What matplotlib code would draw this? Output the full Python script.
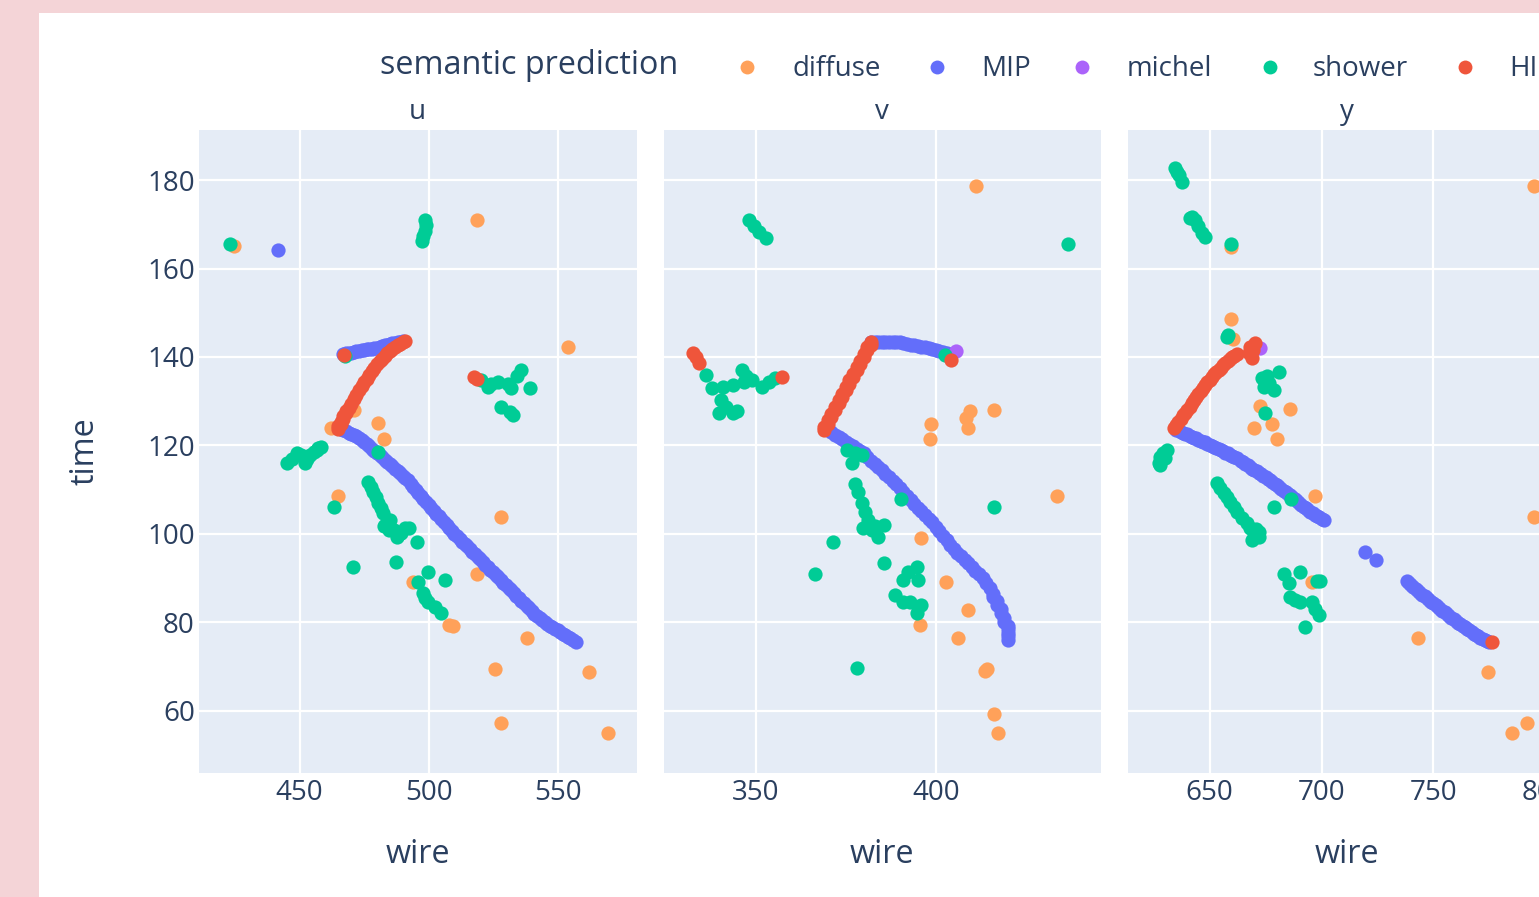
import matplotlib
matplotlib.use("Agg")
import matplotlib.pyplot as plt
from matplotlib.lines import Line2D
from matplotlib.patches import Rectangle

plt.rcParams['font.family'] = ['Open Sans', 'DejaVu Sans']

# ---------------- data (wire, time) per plane and class ----------------
classes = ["diffuse", "MIP", "michel", "shower", "HIP"]
colors = ["#FFA15A", "#636EFA", "#AB63FA", "#00CC96", "#EF553B"]
planes = ["u", "v", "y"]

# ---- plane u ----
u_diffuse_wire = [424.7, 518.6, 554.2, 471.1, 462.1, 480.2, 482.8, 464.7, 493.9, 509.4, 508.1,
                  518.9, 528.2, 538.3, 525.6, 562.3, 528.2, 569.7]
u_diffuse_time = [165.1, 171.0, 142.3, 128.0, 123.9, 125.0, 121.4, 108.6, 89.2, 79.2, 79.4,
                  91.0, 103.9, 76.4, 69.6, 68.9, 57.2, 55.1]

u_mip_wire = [441.7,
              467, 468, 469, 470, 471, 472, 473, 474, 475, 476, 477, 478, 479, 480, 481, 482,
              483, 484, 485, 486, 487, 488, 489, 490,
              466, 467, 468, 469, 470, 471, 472, 473, 474, 475, 476, 477, 478, 479, 480, 481,
              482, 483, 484, 485, 486, 487, 488, 489, 490, 491, 492, 493, 494, 495, 496, 497,
              498, 499, 500, 501, 502, 503, 504, 505, 506, 507, 508, 509, 510, 511, 512, 513,
              514, 515, 516, 517, 518, 519, 520, 521, 522, 523, 524, 525, 526, 527, 528, 529,
              530, 531, 532, 533, 534, 535, 536, 537, 538, 539, 540, 541, 542, 543, 544, 545,
              546, 547, 548, 549, 550, 551, 552, 553, 554, 555, 556, 557]
u_mip_time = [164.2,
              140.6, 140.8, 140.9, 141.0, 141.2, 141.3, 141.4, 141.5, 141.6, 141.7, 141.8,
              141.9, 142.0, 142.1, 142.2, 142.4, 142.6, 142.8, 142.9, 143.1, 143.2, 143.4,
              143.5, 143.7,
              123.7, 123.5, 123.2, 122.9, 122.7, 122.4, 122.1, 121.7, 121.2, 120.7, 120.3,
              119.8, 119.3, 118.8, 118.3, 117.8, 117.3, 116.8, 116.3, 115.8, 115.3, 114.8,
              114.3, 113.8, 113.2, 112.7, 112.1, 111.4, 110.7, 110.0, 109.3, 108.6, 107.9,
              107.2, 106.5, 105.9, 105.3, 104.6, 104.0, 103.3, 102.7, 102.0, 101.4, 100.7,
              100.1, 99.5, 98.9, 98.3, 97.8, 97.2, 96.6, 96.0, 95.4, 94.8, 94.3, 93.7, 93.1,
              92.5, 91.9, 91.3, 90.8, 90.2, 89.6, 89.0, 88.4, 87.8, 87.3, 86.7, 86.1, 85.5,
              84.9, 84.3, 83.8, 83.2, 82.6, 82.0, 81.5, 81.0, 80.5, 80.0, 79.6, 79.2, 78.9,
              78.6, 78.3, 77.9, 77.5, 77.1, 76.8, 76.4, 76.0, 75.7]

u_michel_wire = []
u_michel_time = []

u_shower_wire = [423.2, 498.5, 499.0, 498.5, 498.0, 497.5, 480.2,
                 445.0, 447.0, 448.9, 450.5, 452.1, 453.0, 454.1, 455.6, 456.9, 457.3, 458.2, 463.4,
                 476.7, 477.6, 478.6, 479.5, 480.5, 481.5, 482.5, 483.1, 484.1, 484.6, 485.1,
                 486.4, 487.7, 488.4, 490.9, 489.5, 492.6, 482.8, 495.4, 470.8, 487.4,
                 499.7, 495.8, 506.2, 497.7, 498.7, 499.7, 502.3, 504.9,
                 520.4, 523.0, 524.3, 526.9, 530.8, 532.1, 534.1, 536.0, 539.2, 528.2, 531.5,
                 532.8, 467.5]
u_shower_time = [165.5, 171.0, 169.8, 168.5, 167.3, 166.2, 118.6,
                 116.0, 117.0, 118.2, 117.8, 116.0, 117.0, 117.9, 118.6, 119.0, 119.4, 119.6, 106.0,
                 111.8, 110.7, 109.6, 108.3, 106.9, 105.8, 104.7, 102.0, 103.2, 100.9, 103.2,
                 100.9, 99.4, 100.1, 101.3, 100.2, 101.3, 101.7, 98.3, 92.6, 93.6,
                 91.5, 89.2, 89.5, 86.6, 85.6, 84.7, 83.6, 82.1,
                 134.8, 133.3, 134.0, 134.4, 134.0, 132.9, 135.6, 137.1, 132.9, 128.8, 127.6,
                 126.9, 140.2]

u_hip_wire = [465, 465, 466, 466, 467, 467, 468, 468, 469, 470, 471, 472, 473, 474, 475, 476,
              477, 478, 479, 480, 481, 482, 483, 484, 485, 486, 487, 488, 489, 490, 491,
              467.3, 517.6, 518.6]
u_hip_time = [123.8, 124.3, 124.8, 125.4, 126.0, 126.6, 127.3, 127.9, 128.4, 129.4, 130.4,
              131.5, 132.5, 133.5, 134.3, 135.1, 136.0, 136.8, 137.6, 138.4, 139.1, 139.6,
              140.2, 140.8, 141.4, 141.8, 142.2, 142.6, 142.9, 143.3, 143.6,
              140.4, 135.4, 135.0]

# ---- plane v ----
v_diffuse_wire = [411.2, 398.8, 398.4, 409.4, 408.5, 409.0, 416.1, 433.8, 396.0, 402.9, 408.9,
                  406.2, 395.6, 413.8, 414.3, 416.3, 417.4]
v_diffuse_time = [178.7, 124.9, 121.4, 127.7, 126.2, 123.9, 128.0, 108.6, 99.0, 89.2, 82.8,
                  76.4, 79.4, 69.1, 69.6, 59.3, 55.1]

v_mip_wire = [382, 383, 384, 385, 386, 387, 388, 389, 390, 391, 392, 393, 394, 395, 396, 397,
              398, 399, 400, 401, 402, 403,
              370, 371, 372, 373, 374, 375, 376, 377, 378, 379, 380, 381, 382, 383, 384, 385,
              386, 387, 388, 389, 390, 391, 392, 393, 394, 395, 396, 397, 398, 399, 400, 401,
              402, 403, 404, 405, 406, 407, 408, 409, 410, 411, 412, 413, 414, 415, 416, 416,
              417, 417, 418, 418, 419, 419, 420, 420, 420, 420, 420]
v_mip_time = [143.3, 143.4, 143.5, 143.5, 143.5, 143.5, 143.5, 143.4, 143.3, 143.2, 143.0,
              142.8, 142.6, 142.5, 142.3, 142.2, 142.0, 141.8, 141.6, 141.4, 141.1, 140.9,
              123.7, 123.0, 122.4, 121.9, 121.4, 120.9, 120.4, 119.8, 119.3, 118.8, 118.2,
              117.4, 116.6, 115.9, 115.2, 114.4, 113.6, 112.8, 112.0, 111.2, 110.4, 109.5,
              108.6, 107.7, 106.8, 105.9, 105.1, 104.3, 103.5, 102.6, 101.6, 100.6, 99.6,
              98.6, 97.6, 96.6, 95.8, 95.0, 94.2, 93.4, 92.6, 91.7, 90.9, 90.0, 89.0, 87.8,
              86.4, 85.7, 84.8, 84.0, 83.0, 82.2, 81.0, 80.2, 79.3, 78.5, 77.7, 76.9, 76.1]

v_michel_wire = [405.7]
v_michel_time = [141.4]

v_shower_wire = [348.2, 349.5, 350.9, 352.8, 436.8, 336.2, 338.0, 340.8, 343.6, 346.3, 346.8,
                 347.2, 349.1, 351.8, 353.7, 355.5, 340.3, 339.9, 343.6, 344.9, 341.7, 402.5,
                 416.3, 375.3, 377.6, 376.7, 379.5, 377.6, 378.5, 379.5, 380.4, 381.3, 379.9,
                 382.2, 384.1, 385.5, 383.2, 390.3, 371.6, 366.6, 385.5, 394.7, 392.4, 391.0,
                 395.1, 388.7, 391.0, 392.8, 396.0, 394.7, 378.1]
v_shower_time = [171.0, 169.5, 168.3, 167.0, 165.5, 135.9, 132.9, 133.3, 133.7, 137.1, 134.4,
                 135.6, 134.8, 133.3, 134.4, 135.2, 130.3, 127.3, 127.3, 127.7, 128.8, 140.5,
                 106.0, 119.0, 118.2, 116.0, 117.8, 111.4, 109.6, 106.9, 105.0, 103.2, 101.3,
                 100.9, 99.4, 102.0, 101.7, 107.8, 98.3, 91.0, 93.5, 92.6, 91.5, 89.6,
                 89.6, 86.2, 84.7, 84.7, 84.0, 82.1, 69.8]

v_hip_wire = [332.5, 333.4, 334.3, 357.4, 404.3,
              369, 369, 370, 370, 371, 371, 372, 372, 373, 373, 374, 374, 375, 375, 376, 376,
              377, 377, 378, 378, 379, 379, 380, 380, 381, 381, 382, 382]
v_hip_time = [140.8, 140.1, 138.7, 135.4, 139.3,
              123.4, 124.2, 124.9, 125.7, 126.5, 127.2, 128.0, 128.7, 129.5, 130.2, 131.0,
              131.7, 132.5, 133.2, 134.0, 134.7, 135.5, 136.2, 137.0, 137.7, 138.5, 139.2,
              140.0, 140.7, 141.5, 142.2, 142.8, 143.3]

# ---- plane y ----
y_diffuse_wire = [794.9, 659.6, 659.5, 660.4, 672.6, 686.0, 677.8, 670.0, 680.1, 697.2, 695.7,
                  794.9, 743.0, 774.3, 785.2, 792.0]
y_diffuse_time = [178.7, 164.9, 148.5, 144.0, 128.9, 128.2, 124.9, 123.9, 121.4, 108.6, 89.2,
                  103.9, 76.4, 68.9, 55.1, 57.2]

y_mip_wire = [635, 636, 637, 638, 639, 640, 641, 642, 643, 644, 645, 646, 647, 648, 649, 650,
              651, 652, 653, 654, 655, 656, 657, 658, 659, 660, 661, 662, 664, 665, 666, 667,
              668, 669, 670, 671, 672, 673, 674, 675, 676, 677, 678, 679, 680, 681, 682, 683,
              684, 685, 686, 687, 688, 689, 690, 691, 692, 693, 694, 695, 696, 697, 698, 699,
              700, 701, 719.6, 724.5,
              738, 739, 740, 741, 742, 743, 744, 745, 746, 747, 748, 749, 750, 751, 752, 753,
              754, 755, 756, 757, 758, 759, 760, 761, 762, 763, 764, 765, 766, 767, 768, 769,
              770, 771, 772, 773, 774, 775]
y_mip_time = [123.6, 123.4, 123.1, 122.9, 122.7, 122.5, 122.2, 122.0, 121.8, 121.6, 121.3,
              121.1, 120.9, 120.7, 120.4, 120.2, 119.9, 119.7, 119.4, 119.2, 118.9, 118.7,
              118.4, 118.2, 117.9, 117.7, 117.4, 117.1, 116.5, 116.2, 115.8, 115.5, 115.2,
              114.8, 114.5, 114.2, 113.8, 113.5, 113.2, 112.9, 112.5, 112.2, 111.8, 111.4,
              111.0, 110.6, 110.2, 109.8, 109.4, 109.0, 108.7, 108.3, 107.9, 107.5, 107.1,
              106.6, 106.2, 105.8, 105.4, 105.0, 104.7, 104.4, 104.1, 103.8, 103.5, 103.2,
              96.0, 94.1,
              89.3, 88.9, 88.5, 88.0, 87.6, 87.1, 86.7, 86.3, 85.9, 85.5, 85.1, 84.7, 84.3,
              83.9, 83.5, 83.1, 82.7, 82.3, 81.9, 81.5, 81.1, 80.7, 80.3, 79.9, 79.6, 79.2,
              78.9, 78.5, 78.2, 77.8, 77.5, 77.2, 76.9, 76.6, 76.3, 76.0, 75.8, 75.5]

y_michel_wire = [672.6]
y_michel_time = [142.0]

y_shower_wire = [634.6, 635.5, 636.1, 637.6, 641.3, 642.0, 643.5, 645.0, 646.5, 648.0, 659.6,
                 657.7, 658.4, 673.3, 675.6, 676.3, 680.8, 678.6, 674.1, 674.8,
                 627.3, 628.0, 629.0, 631.0, 627.9, 630.0, 686.5, 678.6,
                 653.3, 654.7, 656.3, 657.7, 659.2, 660.7, 662.2, 664.5, 666.7, 668.0, 669.6,
                 671.9, 668.9, 670.5, 671.9, 683.0, 685.3, 690.5, 699.4, 698.0, 686.0, 688.0,
                 690.5, 695.7, 697.0, 698.7, 692.7]
y_shower_time = [182.6, 181.8, 181.1, 179.6, 171.3, 171.7, 171.0, 169.5, 168.0, 167.2, 165.5,
                 144.5, 145.0, 135.2, 135.6, 134.1, 136.7, 132.6, 133.3, 127.3,
                 116.0, 117.5, 118.2, 119.0, 115.6, 117.2, 107.9, 106.1,
                 111.5, 110.3, 109.2, 108.3, 107.3, 106.2, 105.0, 103.7, 102.4, 101.3, 100.2,
                 99.4, 98.6, 101.2, 100.5, 91.0, 88.9, 91.3, 89.4, 89.4, 85.8, 85.0,
                 84.7, 84.7, 83.0, 81.7, 78.9]

y_hip_wire = [634, 635, 636, 637, 638, 639, 640, 641, 642, 643, 644, 645, 646, 647, 648, 649,
              650, 651, 652, 653, 654, 655, 656, 657, 658, 659, 660, 661, 662,
              667.4, 668.1, 668.9, 669.5, 670.4, 776]
y_hip_time = [124.0, 124.7, 125.4, 126.1, 126.8, 127.4, 128.1, 128.8, 129.5, 130.2, 130.9,
              131.6, 132.3, 132.9, 133.6, 134.3, 134.9, 135.5, 136.1, 136.6, 137.1, 137.6,
              138.1, 138.6, 139.0, 139.5, 139.9, 140.3, 140.7,
              140.8, 142.3, 139.7, 141.5, 143.1, 75.5]

plane_data = {
    "u": [(u_diffuse_wire, u_diffuse_time), (u_mip_wire, u_mip_time), (u_michel_wire, u_michel_time),
          (u_shower_wire, u_shower_time), (u_hip_wire, u_hip_time)],
    "v": [(v_diffuse_wire, v_diffuse_time), (v_mip_wire, v_mip_time), (v_michel_wire, v_michel_time),
          (v_shower_wire, v_shower_time), (v_hip_wire, v_hip_time)],
    "y": [(y_diffuse_wire, y_diffuse_time), (y_mip_wire, y_mip_time), (y_michel_wire, y_michel_time),
          (y_shower_wire, y_shower_time), (y_hip_wire, y_hip_time)],
}

x_ranges = [(411.0, 580.6), (324.4, 445.9), (613.5, 809.0)]
x_ticks = [[450, 500, 550], [350, 400], [650, 700, 750, 800]]
y_range = (46.1, 191.3)
y_ticks = [60, 80, 100, 120, 140, 160, 180]

# ---------------- figure ----------------
W, H = 1539, 897
TEXT = "#2a3f5f"
fig = plt.figure(figsize=(W / 100, H / 100), dpi=100, facecolor="#F4D4D7")
fig.patches.append(Rectangle((39 / W, 0), 1, 1 - 13 / H, transform=fig.transFigure,
                             facecolor="white", edgecolor="none", zorder=-10))


def fx(px):
    return px / W


def fy(py):
    return 1 - py / H


panel_left = [199, 663.5, 1128]
panel_w = 437.5
p_top, p_bot = 130, 772.5
MS = 105
TICK_FS = 20
TITLE_FS = 23.3

for i, plane in enumerate(planes):
    ax = fig.add_axes([fx(panel_left[i]), fy(p_bot), panel_w / W, (p_bot - p_top) / H])
    ax.set_facecolor("#E5ECF6")
    for sp in ax.spines.values():
        sp.set_visible(False)
    ax.set_xlim(*x_ranges[i])
    ax.set_ylim(*y_range)
    ax.set_xticks(x_ticks[i])
    ax.set_yticks(y_ticks)
    ax.grid(True, color="white", linewidth=1.6)
    ax.set_axisbelow(True)
    ax.tick_params(length=0, colors=TEXT, labelsize=TICK_FS)
    ax.tick_params(axis="x", pad=5)
    ax.tick_params(axis="y", pad=3)
    if i > 0:
        ax.tick_params(axis="y", labelleft=False)
    for (wires, times), col in zip(plane_data[plane], colors):
        if len(wires):
            ax.scatter(wires, times, s=MS, c=col, linewidths=0, zorder=3)
    cx = panel_left[i] + panel_w / 2
    fig.text(fx(cx), fy(112), plane, ha="center", va="center", fontsize=TICK_FS, color=TEXT)
    fig.text(fx(cx), fy(854), "wire", ha="center", va="center", fontsize=TITLE_FS, color=TEXT)

fig.text(fx(85), fy(451), "time", ha="center", va="center", rotation=90, fontsize=TITLE_FS, color=TEXT)

# legend
fig.text(fx(380), fy(65.5), "semantic prediction", ha="left", va="center", fontsize=TITLE_FS, color=TEXT)
leg_marker_x = [747, 937, 1082, 1270, 1465]
leg_text_x = [792, 981, 1127, 1313, 1509]
for name, col, mx, tx in zip(classes, colors, leg_marker_x, leg_text_x):
    fig.add_artist(Line2D([fx(mx)], [fy(67)], marker="o", markersize=10, color=col,
                          markeredgewidth=0, linestyle="none", transform=fig.transFigure))
    fig.text(fx(tx), fy(69.5), name, ha="left", va="center", fontsize=TICK_FS, color=TEXT)

fig.savefig("out.png", dpi=100, facecolor=fig.get_facecolor())
